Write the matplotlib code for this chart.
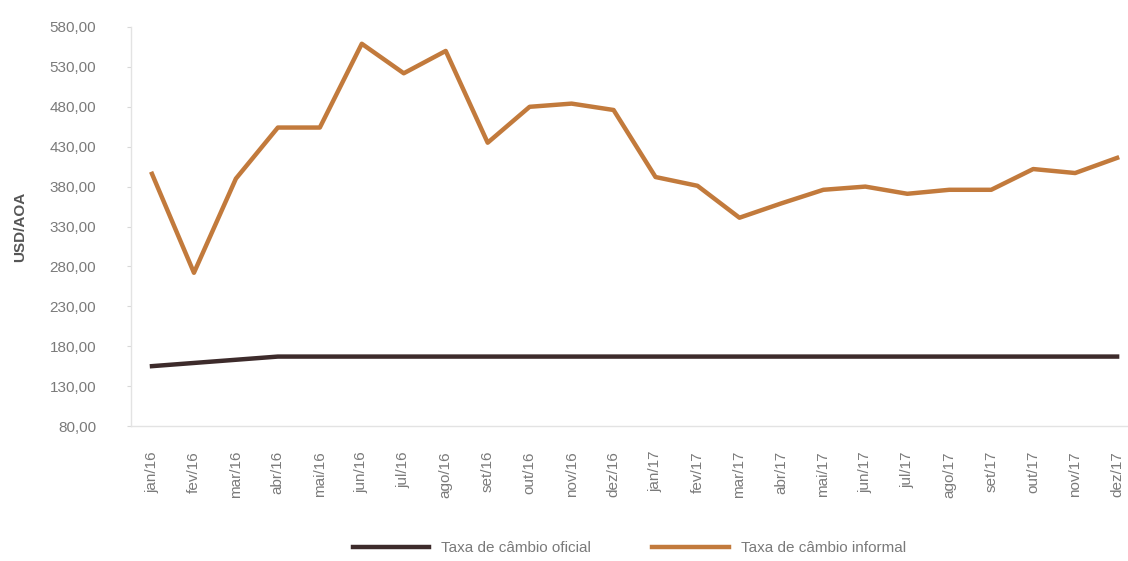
import matplotlib.pyplot as plt
from matplotlib.ticker import FuncFormatter

plt.rcParams['font.family'] = ['Liberation Sans', 'DejaVu Sans']

# dados
meses = ["jan/16", "fev/16", "mar/16", "abr/16", "mai/16", "jun/16", "jul/16", "ago/16",
         "set/16", "out/16", "nov/16", "dez/16", "jan/17", "fev/17", "mar/17", "abr/17",
         "mai/17", "jun/17", "jul/17", "ago/17", "set/17", "out/17", "nov/17", "dez/17"]

oficial = [155, 159, 163, 167, 167, 167, 167, 167, 167, 167, 167, 167,
           167, 167, 167, 167, 167, 167, 167, 167, 167, 167, 167, 167]

informal = [396, 272, 390, 454, 454, 559, 522, 550, 435, 480, 484, 476,
            392, 381, 341, 359, 376, 380, 371, 376, 376, 402, 397, 416]

COR_OFICIAL = "#3d2b2b"
COR_INFORMAL = "#c27a3c"
CINZA = "#7a7a7a"

fig = plt.figure(figsize=(11.28, 5.61), dpi=100)
ax = fig.add_axes([131 / 1128, 135 / 561, 996.6 / 1128, 399 / 561])

x = range(len(meses))
ax.plot(x, oficial, color=COR_OFICIAL, linewidth=3.2, label="Taxa de câmbio oficial")
ax.plot(x, informal, color=COR_INFORMAL, linewidth=3.2, label="Taxa de câmbio informal")

ax.set_xlim(-0.5, 23.25)
ax.set_ylim(80, 580)
ax.set_yticks(range(80, 581, 50))
ax.yaxis.set_major_formatter(FuncFormatter(lambda v, p: f"{v:.2f}".replace(".", ",")))

ax.set_xticks(list(x))
ax.set_xticklabels(meses, rotation=90)

for s in ["top", "right"]:
    ax.spines[s].set_visible(False)
for s in ["left", "bottom"]:
    ax.spines[s].set_color("#e3e3e3")
    ax.spines[s].set_linewidth(1)

ax.tick_params(axis="y", colors="#d8d8d8", labelcolor=CINZA, labelsize=11, length=3, pad=22)
ax.tick_params(axis="x", length=0, labelcolor=CINZA, labelsize=11, pad=18)

ax.set_ylabel("USD/AOA", fontsize=11, fontweight="bold", color="#555555", labelpad=16)

ax.legend(loc="upper center", bbox_to_anchor=(0.5, -0.255), ncol=2, frameon=False,
          fontsize=11, handlelength=5, columnspacing=4, labelcolor=CINZA)

fig.savefig("out.png", dpi=100)
